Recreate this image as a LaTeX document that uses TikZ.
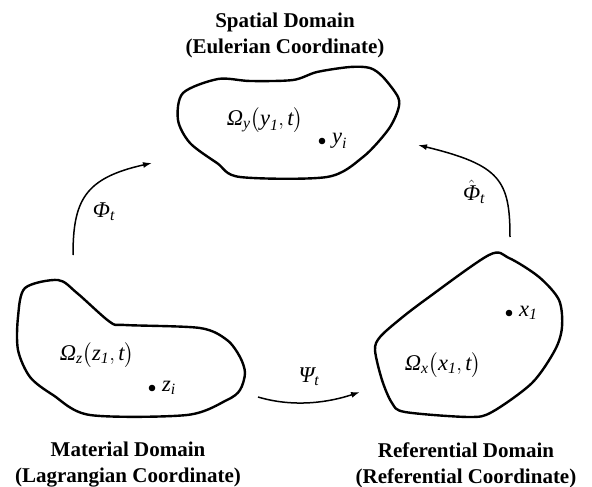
\documentclass[tikz,border=0pt]{standalone}
\usepackage{amsmath}
\usepackage{fontspec}
\setmainfont{Liberation Serif}
\usetikzlibrary{arrows.meta}
\newcommand{\ti}[1]{\text{\itshape #1}}

\begin{document}
\begin{tikzpicture}[x=1pt, y=-1pt, >={Latex[length=9pt, width=6pt]},
    blob/.style={line width=2.4pt, line join=round},
    map/.style={->, line width=1.5pt},
    title/.style={font=\fontsize{21}{26}\selectfont\bfseries, align=center},
    lbl/.style={font=\fontsize{22.5}{26}\selectfont, inner sep=0pt}]
      \useasboundingbox (0,0) rectangle (592,487);

      % the three domains
      \draw[blob] plot[smooth cycle, tension=0.5] coordinates {(218,79) (250,81) (293,80) (317,72) (350,67) (370,68) (383,77) (398,97) (398,110) (388,130) (363,157) (327,177) (240,177) (217,163) (190,143) (178,120) (183,93)};
      \draw[blob] plot[smooth cycle, tension=0.5] coordinates {(25,288) (58,280) (77,293) (110,322) (125,325) (200,328) (227,340) (240,357) (245,373) (240,390) (227,400) (187,415) (90,415) (53,395) (30,377) (18,350) (18,317)};
      \draw[blob] plot[smooth cycle, tension=0.5] coordinates {(489,255) (509,258) (539,277) (559,300) (562,327) (555,350) (532,383) (492,412) (469,417) (405,412) (392,403) (382,380) (375,350) (380,337) (399,320) (425,300)};

      \node[title] (spatial) at (285,35) {Spatial Domain\\(Eulerian Coordinate)};
      \node[title] (material) at (128,465) {Material Domain\\(Lagrangian Coordinate)};
      \node[title] (referential) at (466,465) {Referential Domain\\(Referential Coordinate)};

      \node[lbl] (omega-y) at (265,120) {$\ti{Ω}_{\ti{y}}\bigl(\ti{y}_{\ti{1}},\ti{t}\bigr)$};
      \node[lbl] (omega-z) at (97,355) {$\ti{Ω}_{\ti{z}}\bigl(\ti{z}_{\ti{1}},\ti{t}\bigr)$};
      \node[lbl] (omega-x) at (443,365) {$\ti{Ω}_{\ti{x}}\bigl(\ti{x}_{\ti{1}},\ti{t}\bigr)$};

      \fill (322,141) circle (3.3pt) node[lbl, right=10pt] (pt-y) {$\ti{y}_{\ti{i}}$};
      \fill (152,388) circle (3.3pt) node[lbl, right=10pt] (pt-z) {$\ti{z}_{\ti{i}}$};
      \fill (509,313) circle (3.3pt) node[lbl, right=10pt] (pt-x) {$\ti{x}_{\ti{1}}$};

      % mappings
      \coordinate (phi-a) at (73,255);
      \coordinate (phi-b) at (152,163);
      \coordinate (phihat-a) at (510,237);
      \coordinate (phihat-b) at (418,145);
      \coordinate (psi-a) at (258,397);
      \coordinate (psi-b) at (360,392);

      \draw[map] (phi-a) .. controls (73,200) and (85,178) .. (phi-b);
      \draw[map] (phihat-a) .. controls (510,180) and (500,165) .. (phihat-b);
      \draw[map] (psi-a) .. controls (295,408) and (330,402) .. (psi-b);

      \node[lbl] (phi) at (104,212) {$\ti{Φ}_{\ti{t}}$};
      \node[lbl] (phihat) at (474,192) {$\hat{\ti{Φ}}_{\ti{t}}$};
      \node[lbl] (psi) at (309,377) {$\ti{Ψ}_{\ti{t}}$};
    \end{tikzpicture}
\end{document}
